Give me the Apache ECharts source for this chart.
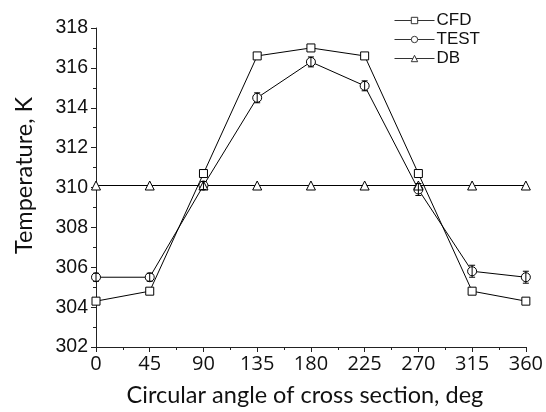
<!DOCTYPE html>
<html><head><meta charset="utf-8">
<script src="https://cdn.jsdelivr.net/npm/echarts@6/dist/echarts.min.js"></script>
<style>html,body{margin:0;padding:0;background:#fff}#c{width:546px;height:412px}</style>
</head><body><div id="c"></div>
<script>
const angles = [0, 45, 90, 135, 180, 225, 270, 315, 360];
const cfd = [304.3, 304.8, 310.7, 316.6, 317.0, 316.6, 310.7, 304.8, 304.3];
const test = [305.5, 305.5, 310.1, 314.5, 316.3, 315.1, 309.9, 305.8, 305.5];
const testErr = [0.2, 0.2, 0.2, 0.25, 0.25, 0.25, 0.3, 0.3, 0.3];
const db = [310.1, 310.1, 310.1, 310.1, 310.1, 310.1, 310.1, 310.1, 310.1];
const xTicks = [0, 45, 90, 135, 180, 225, 270, 315, 360];
const yTicks = [302, 304, 306, 308, 310, 312, 314, 316, 318];

const pair = (ys) => angles.map((a, i) => [a, ys[i]]);
const chart = echarts.init(document.getElementById('c'));
const lineBase = (name, data, symbol, size) => ({
  name, type: 'line', data, symbol, symbolSize: size, clip: false,
  lineStyle: { color: '#000', width: 1 },
  itemStyle: { color: '#fff', borderColor: '#000', borderWidth: 1 },
  emphasis: { disabled: true }, z: 3
});
chart.setOption({
  animation: false,
  grid: { left: 96, right: 20, top: 28, bottom: 61, containLabel: false },
  legend: {
    orient: 'vertical', left: 389, top: 6, itemWidth: 40, itemHeight: 8, itemGap: 0,
    lineStyle: { width: 1, color: '#333' },
    itemStyle: { borderWidth: 1, color: '#fff', borderColor: '#333' },
    textStyle: { fontFamily: 'Liberation Sans Narrow, Liberation Sans', fontSize: 17, lineHeight: 19, color: '#111', padding: [0,0,0,-3] },
    data: ['CFD', 'TEST', 'DB']
  },
  xAxis: {
    type: 'value', min: 0, max: 360, interval: 45,
    name: 'Circular angle of cross section, deg', nameLocation: 'middle', nameGap: 36,
    nameTextStyle: { fontFamily: 'Lato', fontSize: 23.5, color: '#111', padding: [0, 12, 0, 0] },
    axisLine: { lineStyle: { color: '#222', width: 1 } },
    axisTick: { length: 5, lineStyle: { color: '#222' } },
    minorTick: { show: true, splitNumber: 2, length: 3, lineStyle: { color: '#222' } },
    splitLine: { show: false },
    axisLabel: { fontFamily: 'Open Sans', fontSize: 20, color: '#111', margin: 7,
      customValues: xTicks, formatter: v => String(v) }
  },
  yAxis: {
    type: 'value', min: 302, max: 318, interval: 2,
    name: 'Temperature, K', nameLocation: 'middle', nameGap: 60,
    nameTextStyle: { fontFamily: 'Lato', fontSize: 23.5, color: '#111', padding: [0, 0, 0, 24] },
    axisLine: { show: true, lineStyle: { color: '#222', width: 1 } },
    axisTick: { show: true, length: 5, lineStyle: { color: '#222' } },
    minorTick: { show: true, splitNumber: 2, length: 3, lineStyle: { color: '#222' } },
    splitLine: { show: false },
    axisLabel: { fontFamily: 'Liberation Sans', fontSize: 19.5, color: '#111', margin: 8,
      customValues: yTicks, formatter: v => String(v) }
  },
  series: [
    lineBase('CFD', pair(cfd), 'rect', 8),
    lineBase('TEST', pair(test), 'circle', 9),
    lineBase('DB', pair(db), 'triangle', 9),
    {
      type: 'custom', name: 'err', z: 4, silent: true,
      data: angles.map((a, i) => [a, test[i] - testErr[i], test[i] + testErr[i]]),
      renderItem: (params, api) => {
        const lo = api.coord([api.value(0), api.value(1)]);
        const hi = api.coord([api.value(0), api.value(2)]);
        const s = { stroke: '#000', lineWidth: 1 };
        return { type: 'group', children: [
          { type: 'line', shape: { x1: lo[0], y1: lo[1], x2: hi[0], y2: hi[1] }, style: s },
          { type: 'line', shape: { x1: lo[0]-3, y1: lo[1], x2: lo[0]+3, y2: lo[1] }, style: s },
          { type: 'line', shape: { x1: hi[0]-3, y1: hi[1], x2: hi[0]+3, y2: hi[1] }, style: s }
        ]};
      }
    }
  ]
});
</script></body></html>
